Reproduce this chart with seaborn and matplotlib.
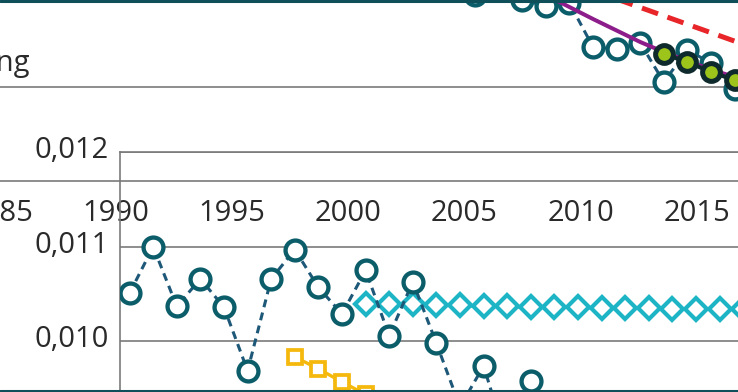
import matplotlib
matplotlib.use("Agg")
import matplotlib.pyplot as plt
import seaborn as sns
from matplotlib.lines import Line2D
from matplotlib.transforms import ScaledTranslation

# ---------------- data ----------------
# upper chart (index values, partly cut off at the top)
top_years = [2005, 2006, 2007, 2008, 2009, 2010, 2011, 2012, 2013, 2014, 2015, 2016]
top_circles = [101.1, 105.5, 100.0, 98.67, 99.34, 89.61, 89.17, 90.50, 81.88, 88.95, 86.08, 80.33]
green_years = [2013, 2014, 2015, 2016]
green_vals = [88.07, 86.30, 84.09, 82.32]
trend_years = [2007, 2008, 2009, 2010, 2011, 2012, 2013, 2014, 2015, 2016]
trend_vals = [103.76, 101.10, 98.45, 95.80, 93.26, 90.72, 88.51, 86.52, 84.64, 82.98]
target_years = [2010, 2020]
target_vals = [102.08, 83.47]
top_label = "Zielerreichung"

# shared year axis labels
axis_years = [1985, 1990, 1995, 2000, 2005, 2010, 2015]
axis_labels = ["1985", "1990", "1995", "2000", "2005", "2010", "2015"]

# lower chart
low_years = [1991, 1992, 1993, 1994, 1995, 1996, 1997, 1998, 1999, 2000,
             2001, 2002, 2003, 2004, 2005, 2006, 2007, 2008]
low_circles = [0.01051, 0.01100, 0.01037, 0.01066, 0.01036, 0.00969, 0.01066, 0.01097,
               0.01057, 0.01029, 0.01075, 0.01006, 0.01063, 0.00998, 0.00931, 0.00974,
               0.00893, 0.00958]
diamond_years = [2001, 2002, 2003, 2004, 2005, 2006, 2007, 2008, 2009, 2010, 2011,
                 2012, 2013, 2014, 2015, 2016, 2017]
diamond_vals = [0.01040, 0.01039, 0.01039, 0.01038, 0.01038, 0.01037, 0.01037, 0.01036,
                0.01036, 0.01036, 0.01035, 0.01035, 0.01035, 0.01034, 0.01034, 0.01034,
                0.01034]
square_years = [1998, 1999, 2000, 2001, 2002]
square_vals = [0.009836, 0.009710, 0.009572, 0.009440, 0.009330]
ytick_vals = [0.010, 0.011, 0.012]
ytick_labels = ["0,010", "0,011", "0,012"]

# ---------------- style ----------------
sns.set_theme(style="white")
plt.rcParams["font.family"] = ["Open Sans", "DejaVu Sans"]

W, H = 738, 392
fig = plt.figure(figsize=(W / 100, H / 100), dpi=100)
fig.patch.set_facecolor("white")

TEAL = "#0b5d6a"
TEAL_LINE = "#1d5878"
CYAN = "#1db4c6"
YELLOW = "#f5b80c"
PURPLE = "#8c1d8a"
RED = "#e8262a"
GREEN = "#9cc41b"
DARK = "#0e2a2c"
GRID = "#7a7a7a"
TXT = "#2a2a2a"
FS = 21

PX = 23.6  # pixels per year


def fy(py):
    return 1 - py / H


# label row axes (lines at y=87 and y=181, year labels)
axC = fig.add_axes([0, fy(181), 1, 94 / H])
axC.set_facecolor("none")
x0 = 1990 - 106 / PX
axC.set_xlim(x0, x0 + W / PX)
axC.set_ylim(0, 1)
axC.set_yticks([])
axC.set_xticks(axis_years, axis_labels)
axC.tick_params(axis="x", length=0, pad=13, labelsize=FS, labelcolor=TXT)
for s in ["left", "right"]:
    axC.spines[s].set_visible(False)
for s in ["top", "bottom"]:
    axC.spines[s].set_color(GRID)
    axC.spines[s].set_linewidth(1.2)

# lower chart axes
b_top = 152
axB = fig.add_axes([120 / W, 0, (W - 120) / W, (H - b_top) / H])
axB.set_facecolor("none")
axB.set_xlim(x0 + 120 / PX, x0 + W / PX)
PY_PER = 94700.0
ytop = 0.012
axB.set_ylim(ytop - (H - b_top) / PY_PER, ytop)
axB.set_yticks(ytick_vals, ytick_labels)
axB.set_xticks([])
axB.tick_params(axis="y", length=0, pad=8, labelsize=FS, labelcolor=TXT)
axB.grid(axis="y", color=GRID, linewidth=1.2)
for s in ["right", "bottom"]:
    axB.spines[s].set_visible(False)
for s in ["left", "top"]:
    axB.spines[s].set_color(GRID)
    axB.spines[s].set_linewidth(1.2)

sns.lineplot(x=square_years, y=square_vals, ax=axB, color=YELLOW, linewidth=2.4,
             marker="s", markersize=10.5, markerfacecolor="white",
             markeredgecolor=YELLOW, markeredgewidth=2.7, zorder=3)
sns.lineplot(x=diamond_years, y=diamond_vals, ax=axB, color=CYAN, linewidth=2.4,
             marker="D", markersize=11.0, markerfacecolor="white",
             markeredgecolor=CYAN, markeredgewidth=3.0, zorder=3)
sns.lineplot(x=low_years, y=low_circles, ax=axB, color=TEAL_LINE, linewidth=2.2,
             marker="o", markersize=14.3, markerfacecolor="white",
             markeredgecolor=TEAL, markeredgewidth=3.1, zorder=4)
axB.lines[-1].set_linestyle((0, (2.6, 1.8)))
axB.set_xlabel("")
axB.set_ylabel("")

# upper chart axes
axA = fig.add_axes([0, fy(181), 1, 181 / H])
axA.set_facecolor("none")
xa0 = 1990 - 121 / PX
axA.set_xlim(xa0, xa0 + W / PX)
axA.set_ylim(60, 100)
axA.set_axis_off()

sns.lineplot(x=target_years, y=target_vals, ax=axA, color=RED, linewidth=3.6, zorder=2)
axA.lines[-1].set_linestyle((0, (3.4, 2.0)))
sns.lineplot(x=top_years, y=top_circles, ax=axA, color=TEAL_LINE, linewidth=2.2,
             marker="o", markersize=14.3, markerfacecolor="white",
             markeredgecolor=TEAL, markeredgewidth=3.1, zorder=3)
axA.lines[-1].set_linestyle((0, (2.6, 1.8)))
sns.lineplot(x=trend_years, y=trend_vals, ax=axA, color=PURPLE, linewidth=2.9, zorder=4)
sns.lineplot(x=green_years, y=green_vals, ax=axA, color=DARK, linewidth=3.0,
             marker="o", markersize=12.8, markerfacecolor=GREEN,
             markeredgecolor=DARK, markeredgewidth=3.6, zorder=5)

fig.text(30 / W, fy(71), top_label, ha="right", va="baseline", fontsize=FS, color=TXT)

# frame lines of the panel
fig.add_artist(Line2D([0, 1], [fy(1), fy(1)], transform=fig.transFigure,
                      color="#0f4f5a", linewidth=2.2))
fig.add_artist(Line2D([0, 1], [fy(391), fy(391)], transform=fig.transFigure,
                      color="#0f4f5a", linewidth=2.2))

# y labels sit slightly above their grid lines
shift = ScaledTranslation(0, 5 / 100, fig.dpi_scale_trans)
for lab in axB.get_yticklabels():
    lab.set_verticalalignment("center_baseline")
    lab.set_transform(lab.get_transform() + shift)

fig.savefig("out.png", dpi=100, facecolor="white")
